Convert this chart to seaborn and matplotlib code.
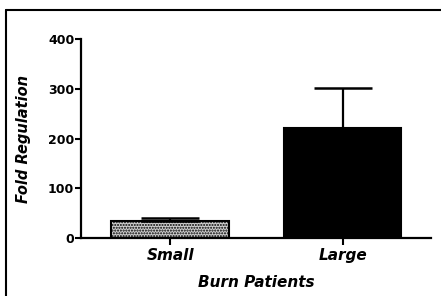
import matplotlib
matplotlib.use("Agg")
import matplotlib.pyplot as plt
import pandas as pd
import seaborn as sns
from matplotlib.lines import Line2D

# data
groups = ["Small", "Large"]
fold = [34, 221]
sem = [6, 80]

sns.set_style("ticks")
plt.rcParams["font.family"] = ["DejaVu Sans"]
plt.rcParams["hatch.linewidth"] = 1.0

df = pd.DataFrame({"group": groups, "fold": fold})

fig = plt.figure(figsize=(4.41, 2.96), dpi=100)
ax = fig.add_axes([0.184, 0.196, 0.793, 0.672])

sns.barplot(data=df, x="group", y="fold", order=groups, width=0.68,
            edgecolor="black", linewidth=1.5, ax=ax)
ax.patches[0].set_facecolor("#cfcfcf")
ax.patches[0].set_hatch("......")
ax.patches[1].set_facecolor("black")

# upper error bars only
ax.errorbar(range(len(groups)), fold, yerr=[[0] * len(sem), sem], fmt="none",
            ecolor="black", elinewidth=1.6, capsize=21, capthick=1.8)

ax.set_xlim(-0.515, 1.51)
ax.set_ylim(0, 400)
ax.set_yticks([0, 100, 200, 300, 400])

font = dict(fontweight="bold", fontstyle="italic", fontsize=11, color="black")
ax.set_xticks(range(len(groups)))
ax.set_xticklabels(groups, **font)
ax.set_yticklabels([str(v) for v in [0, 100, 200, 300, 400]],
                   fontweight="bold", fontsize=9, color="black")
ax.set_xlabel("Burn Patients", labelpad=9, **font)
ax.set_ylabel("Fold Regulation", labelpad=12, fontweight="bold",
              fontstyle="italic", fontsize=10.5, color="black")

sns.despine(ax=ax)
for side in ["left", "bottom"]:
    ax.spines[side].set_linewidth(1.6)
    ax.spines[side].set_color("black")
ax.tick_params(axis="both", width=1.5, length=4, colors="black", pad=1)
ax.tick_params(axis="x", length=5, pad=2)

# frame lines of the original figure (top and left only)
fig.add_artist(Line2D([6 / 441, 1], [1 - 9.5 / 296, 1 - 9.5 / 296],
                      transform=fig.transFigure, color="black", lw=1.5))
fig.add_artist(Line2D([6 / 441, 6 / 441], [0, 1 - 9.5 / 296],
                      transform=fig.transFigure, color="black", lw=1.5))

fig.savefig("out.png", dpi=100)
